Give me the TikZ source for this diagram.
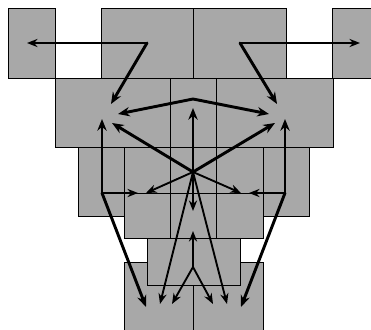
\documentclass[tikz,border=0pt]{standalone}
\usetikzlibrary{arrows.meta}

\begin{document}
\begin{tikzpicture}[x=0.03cm,y=-0.03cm,
  cell/.style={fill=black!34,draw=black,line width=.7pt},
  bigarr/.style={line width=2.5pt,line cap=round,-{Stealth[length=10pt,width=8pt]}},
  smallarr/.style={line width=1.6pt,line cap=round,-{Stealth[length=9pt,width=7pt,fill=black!40]}}]
\useasboundingbox (0,0) rectangle (371,329);
\begin{scope}
\clip (0,0) rectangle (371,329);
% boxes, back to front
\foreach \a/\b/\c/\d in {8/8/55/78,101/8/193/78,193/8/286/78,332/8/385/78,
  55/78/170/147,170/78/216/147,216/78/333/147,
  78/147/124/216,263/147/309/216,
  102/147/124/193,124/147/170/193,170/147/216/193,216/147/263/193,263/147/285/193,
  124/193/170/238,170/193/216/238,216/193/263/238,
  124/262/193/340,193/262/263/340,147/238/240/285}
  \draw[cell] (\a,\b) rectangle (\c,\d);
\end{scope}
% end points
\coordinate (tl) at (147,43); \coordinate (tr) at (240,43);
\coordinate (farl) at (27,43); \coordinate (farr) at (360,43);
\coordinate (lin1) at (111,104); \coordinate (rin1) at (277,104);
\coordinate (apex) at (193,99);
\coordinate (lin2) at (118,114); \coordinate (rin2) at (269,114);
\coordinate (hub) at (193,172); \coordinate (hubup) at (193,108);
\coordinate (lin3) at (112,123); \coordinate (rin3) at (275,123);
\coordinate (lsrc) at (102,193); \coordinate (rsrc) at (285,193);
\coordinate (lin4) at (102,119); \coordinate (rin4) at (285,119);
\coordinate (lmid) at (138,193); \coordinate (rmid) at (249,193);
\coordinate (hl) at (146,193); \coordinate (hr) at (241,193);
\coordinate (hdown) at (193,211);
\coordinate (low) at (193,267); \coordinate (lowup) at (193,231);
\coordinate (b1) at (146,307); \coordinate (b2) at (160,304);
\coordinate (b3) at (172,304); \coordinate (b4) at (213,304);
\coordinate (b5) at (227,304); \coordinate (b6) at (241,307);
% arrows
\draw[smallarr,line width=2.2pt] (tl) -- (farl);
\draw[smallarr,line width=2.2pt] (tr) -- (farr);
\foreach \s/\t in {lsrc/lmid,rsrc/rmid,hub/hl,hub/hr,hub/hdown,low/lowup,hub/b2,hub/b5,low/b3,low/b4}
  \draw[smallarr] (\s) -- (\t);
\foreach \s/\t in {tl/lin1,tr/rin1,hub/hubup,hub/lin3,hub/rin3,lsrc/lin4,rsrc/rin4,lsrc/b1,rsrc/b6}
  \draw[bigarr] (\s) -- (\t);
\draw[bigarr,{Stealth[length=10pt,width=8pt]}-{Stealth[length=10pt,width=8pt]}] (lin2) -- (apex) -- (rin2);
\end{tikzpicture}
\end{document}
